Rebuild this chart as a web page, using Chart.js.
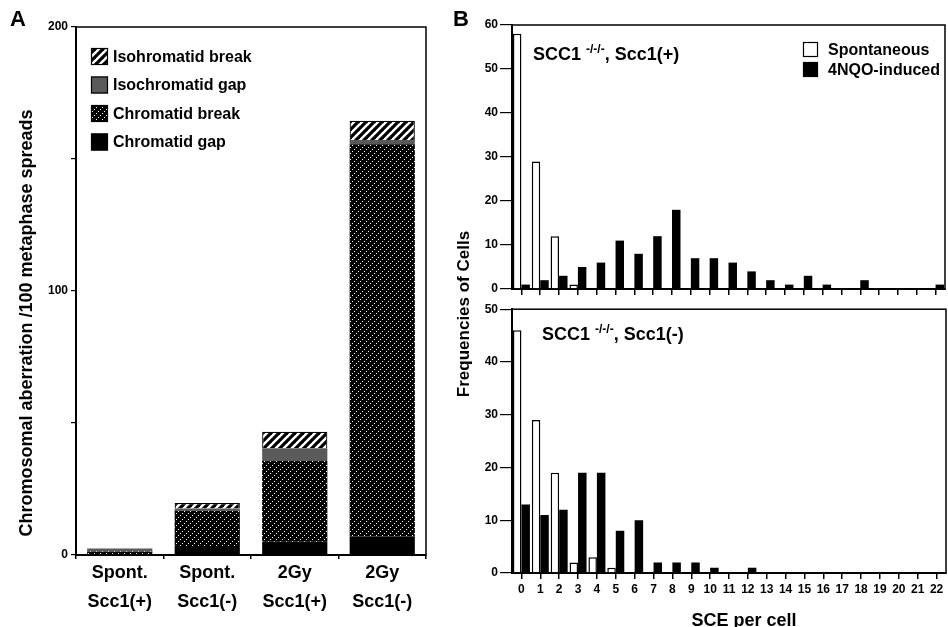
<!DOCTYPE html>
<html>
<head>
<meta charset="utf-8">
<script src="https://cdn.jsdelivr.net/npm/chart.js@4"></script>
<style>
  html, body { margin: 0; padding: 0; background: #fff; }
  body { width: 948px; height: 627px; position: relative; overflow: hidden;
         font-family: 'Liberation Sans', Arial, sans-serif; font-weight: bold; color: #000; }
  canvas { position: absolute; }
  .txt { position: absolute; white-space: nowrap; line-height: 1; }
  .rot { transform: translate(-50%, -50%) rotate(-90deg); }
  .sup { font-size: 12px; position: relative; top: -7px; }
</style>
</head>
<body>
<canvas id="chartA" width="460" height="627" style="left:0;top:0"></canvas>
<canvas id="chartB1" width="488" height="300" style="left:460px;top:0"></canvas>
<canvas id="chartB2" width="488" height="327" style="left:460px;top:300px"></canvas>

<div class="txt" style="left:10px;top:8px;font-size:22px">A</div>
<div class="txt" style="left:453px;top:8px;font-size:22px">B</div>
<div class="txt rot" style="left:26px;top:323px;font-size:18px">Chromosomal aberration /100 metaphase spreads</div>
<div class="txt rot" style="left:463px;top:314px;font-size:17px">Frequencies of  Cells</div>
<div class="txt" style="left:533px;top:45px;font-size:18px">SCC1 <span class="sup">-/-/-</span>, Scc1(+)</div>
<div class="txt" style="left:542px;top:325px;font-size:18px">SCC1 <span class="sup">-/-/-</span>, Scc1(-)</div>
<div class="txt" style="left:744px;top:611px;font-size:18px;transform:translateX(-50%)">SCE per cell</div>

<script>
// ── Panel A data ─────────────────────────────────────────────
const groupLabels       = [['Spont.', 'Scc1(+)'], ['Spont.', 'Scc1(-)'], ['2Gy', 'Scc1(+)'], ['2Gy', 'Scc1(-)']];
const chromatidGap      = [0.3, 3, 5, 7];
const chromatidBreak    = [1, 13.8, 30.6, 148.6];
const isochromatidGap   = [1.2, 0.8, 4.8, 1.6];
const isochromatidBreak = [0, 2.1, 6.3, 7.3];
const aTicks            = [0, 100, 200];

// ── Panel B data ─────────────────────────────────────────────
const sceLabels  = ['0','1','2','3','4','5','6','7','8','9','10','11','12','13','14','15','16','17','18','19','20','21','22'];
const spontPlus  = [58, 29, 12, 1, 0, 0, 0, 0, 0, 0, 0, 0, 0, 0, 0, 0, 0, 0, 0, 0, 0, 0, 0];
const nqoPlus    = [1, 2, 3, 5, 6, 11, 8, 12, 18, 7, 7, 6, 4, 2, 1, 3, 1, 0, 2, 0, 0, 0, 1];
const spontMinus = [46, 29, 19, 2, 3, 1, 0, 0, 0, 0, 0, 0, 0, 0, 0, 0, 0, 0, 0, 0, 0, 0, 0];
const nqoMinus   = [13, 11, 12, 19, 19, 8, 10, 2, 2, 2, 1, 0, 1, 0, 0, 0, 0, 0, 0, 0, 0, 0, 0];

const FONT = "'Liberation Sans', Arial, sans-serif";
const ISO_GAP_GREY = '#5a5a5a';

// ── Fill patterns ────────────────────────────────────────────
function dottedBlack() {
    const c = document.createElement('canvas');
    c.width = c.height = 6;
    const g = c.getContext('2d');
    g.fillStyle = '#000';
    g.fillRect(0, 0, 6, 6);
    g.fillStyle = '#fff';
    [[0, 5], [2, 3], [4, 1]].forEach(([x, y]) => g.fillRect(x, y, 1, 1));
    return g.createPattern(c, 'repeat');
}
function stripedWhite() {
    const c = document.createElement('canvas');
    c.width = c.height = 8;
    const g = c.getContext('2d');
    g.fillStyle = '#fff';
    g.fillRect(0, 0, 8, 8);
    g.strokeStyle = '#000';
    g.lineWidth = 3.2;
    [[-2, 10, 10, -2], [-2, 2, 2, -2], [6, 10, 10, 6]].forEach(([a, b, x, y]) => {
        g.beginPath(); g.moveTo(a, b); g.lineTo(x, y); g.stroke();
    });
    return g.createPattern(c, 'repeat');
}
const chrBreakFill = dottedBlack();
const isoBreakFill = stripedWhite();

// ── Shared plugins ───────────────────────────────────────────
const framePlugin = {
    id: 'frame',
    afterDraw(chart) {
        const { ctx, chartArea: a } = chart;
        ctx.save();
        ctx.strokeStyle = '#000';
        ctx.lineWidth = 1.5;
        ctx.strokeRect(a.left, a.top, a.right - a.left, a.bottom - a.top);
        ctx.restore();
    }
};

function boxLegend(items, x, y0, step, size, textX, fontSize) {
    return {
        id: 'boxLegend',
        afterDraw(chart) {
            const ctx = chart.ctx;
            ctx.save();
            ctx.font = `bold ${fontSize}px ${FONT}`;
            ctx.textBaseline = 'middle';
            items.forEach((it, i) => {
                const y = y0 + i * step;
                ctx.fillStyle = it.fill;
                ctx.fillRect(x, y, size, size);
                ctx.strokeStyle = '#000';
                ctx.lineWidth = 1.2;
                ctx.strokeRect(x + 0.5, y + 0.5, size - 1, size - 1);
                ctx.fillStyle = '#000';
                ctx.fillText(it.label, textX, y + size / 2 + 1);
            });
            ctx.restore();
        }
    };
}

// ── Panel A: stacked aberrations ─────────────────────────────
new Chart(document.getElementById('chartA'), {
    type: 'bar',
    data: {
        labels: groupLabels,
        datasets: [
            { label: 'Chromatid gap',     data: chromatidGap,      backgroundColor: '#000',         borderWidth: 0 },
            { label: 'Chromatid break',   data: chromatidBreak,    backgroundColor: chrBreakFill,   borderWidth: 0 },
            { label: 'Isochromatid gap',  data: isochromatidGap,   backgroundColor: ISO_GAP_GREY,   borderWidth: 0 },
            { label: 'Isohromatid break', data: isochromatidBreak, backgroundColor: isoBreakFill,   borderColor: '#000', borderWidth: 1.2, borderSkipped: 'bottom' }
        ]
    },
    options: {
        responsive: false,
        animation: false,
        layout: { padding: { top: 27, right: 34, left: 0, bottom: 0 } },
        datasets: { bar: { barPercentage: 0.745, categoryPercentage: 1 } },
        plugins: { legend: { display: false }, tooltip: { enabled: false } },
        scales: {
            x: {
                stacked: true,
                afterFit: s => { s.height = 72; },
                border: { color: '#000', width: 2 },
                grid: { offset: true, drawOnChartArea: false, drawTicks: true, tickLength: 4, color: '#000', lineWidth: 1.5 },
                ticks: { color: '#000', padding: 0, maxRotation: 0, autoSkip: false,
                         font: { family: FONT, size: 18, weight: 'bold', lineHeight: 1.6 } }
            },
            y: {
                stacked: true,
                min: 0, max: 200,
                afterFit: s => { s.width = 76; },
                border: { color: '#000', width: 2 },
                grid: { drawOnChartArea: false, drawTicks: true, tickLength: 5, color: '#000', lineWidth: 1.2 },
                ticks: { stepSize: 50, color: '#000', padding: 3,
                         font: { family: FONT, size: 12, weight: 'bold' },
                         callback: v => aTicks.includes(v) ? v : '' }
            }
        }
    },
    plugins: [framePlugin, boxLegend([
        { label: 'Isohromatid break', fill: isoBreakFill },
        { label: 'Isochromatid gap',  fill: ISO_GAP_GREY },
        { label: 'Chromatid break',   fill: chrBreakFill },
        { label: 'Chromatid gap',     fill: '#000' }
    ], 91, 48, 28.5, 17, 113, 16)]
});

// ── Panel B: SCE histograms ──────────────────────────────────
function sceChart(id, spont, nqo, ymax, opts) {
    return new Chart(document.getElementById(id), {
        type: 'bar',
        data: {
            labels: sceLabels,
            datasets: [
                { label: 'Spontaneous',   data: spont, backgroundColor: '#fff', borderColor: '#000', borderWidth: 1.5 },
                { label: '4NQO-induced',  data: nqo,   backgroundColor: '#000', borderColor: '#000', borderWidth: 0 }
            ]
        },
        options: {
            responsive: false,
            animation: false,
            layout: { padding: opts.padding },
            datasets: { bar: { barPercentage: 1, categoryPercentage: 0.9 } },
            plugins: { legend: { display: false }, tooltip: { enabled: false } },
            scales: {
                x: {
                    afterFit: s => { s.height = opts.xHeight; },
                    border: { color: '#000', width: 2 },
                    grid: { offset: false, drawOnChartArea: false, drawTicks: true, tickLength: 6, color: '#000', lineWidth: 1.5 },
                    ticks: { display: opts.xLabels, color: '#000', padding: 3, maxRotation: 0, autoSkip: false,
                             font: { family: FONT, size: 12, weight: 'bold' } }
                },
                y: {
                    min: 0, max: ymax,
                    afterFit: s => { s.width = 52; },
                    border: { color: '#000', width: 2 },
                    grid: { drawOnChartArea: false, drawTicks: true, tickLength: 12, color: '#000', lineWidth: 1.2 },
                    ticks: { stepSize: 10, color: '#000', padding: 2,
                             font: { family: FONT, size: 12, weight: 'bold' } }
                }
            }
        },
        plugins: opts.legend ? [framePlugin, opts.legend] : [framePlugin]
    });
}

sceChart('chartB1', spontPlus, nqoPlus, 60, {
    padding: { top: 25, right: 3, left: 0, bottom: 0 },
    xHeight: 11,
    xLabels: false,
    legend: boxLegend([
        { label: 'Spontaneous',  fill: '#fff' },
        { label: '4NQO-induced', fill: '#000' }
    ], 343, 42, 20, 15, 368, 16)
});

sceChart('chartB2', spontMinus, nqoMinus, 50, {
    padding: { top: 8, right: 2, left: 0, bottom: 0 },
    xHeight: 54,
    xLabels: true
});
</script>
</body>
</html>
